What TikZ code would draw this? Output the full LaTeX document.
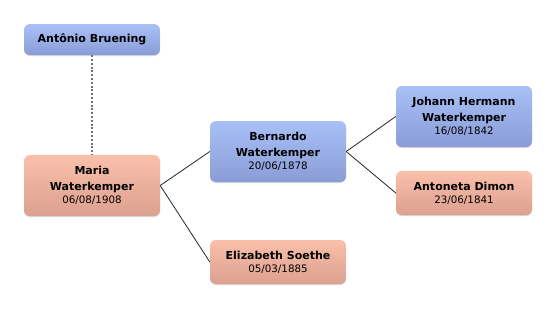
\documentclass[tikz,border=0pt]{standalone}
\usepackage{fontspec}
\setmainfont{DejaVu Sans}
\usetikzlibrary{shadows}
\definecolor{bluetop}{HTML}{A9C0F7}
\definecolor{bluebot}{HTML}{8A9CD6}
\definecolor{saltop}{HTML}{FBC0AA}
\definecolor{salbot}{HTML}{DBA08F}
\tikzset{
  person/.style={rounded corners=6pt, minimum width=136pt, inner sep=0pt, align=center,
    shading=axis, shading angle=0,
    drop shadow={shadow xshift=0pt, shadow yshift=-1pt, opacity=0.25, fill=black!60},
    font=\fontsize{11}{16}\selectfont},
  male/.style={person, top color=bluetop, bottom color=bluebot},
  female/.style={person, top color=saltop, bottom color=salbot},
  link/.style={draw=black!85, line width=0.8pt},
  dotlink/.style={draw=black!55, line width=1.5pt, dash pattern=on 2pt off 1.8pt}
}
\newcommand{\pname}[1]{\textbf{#1}}
\newcommand{\pdate}[1]{{\fontsize{10.3}{12}\selectfont #1}}
\begin{document}
\begin{tikzpicture}[x=1pt,y=-1pt]
\useasboundingbox (0,0) rectangle (556,309);
\node[male, minimum height=31pt] (antonio) at (92,39.5) {\pname{Antônio Bruening}};
\node[female, minimum height=61pt] (maria) at (92,185.5) {\pname{Maria}\\\pname{Waterkemper}\\[-3pt]\pdate{06/08/1908}};
\node[male, minimum height=61pt] (bernardo) at (278,151.5) {\pname{Bernardo}\\\pname{Waterkemper}\\[-3pt]\pdate{20/06/1878}};
\node[female, minimum height=44pt] (elizabeth) at (278,262) {\pname{Elizabeth Soethe}\\[-3pt]\pdate{05/03/1885}};
\node[male, minimum height=61pt] (johann) at (464,116.5) {\pname{Johann Hermann}\\\pname{Waterkemper}\\[-3pt]\pdate{16/08/1842}};
\node[female, minimum height=44pt] (antoneta) at (464,193) {\pname{Antoneta Dimon}\\[-3pt]\pdate{23/06/1841}};
\draw[dotlink] (antonio.south) -- (maria.north);
\draw[link] (maria.east) -- (bernardo.west);
\draw[link] (maria.east) -- (elizabeth.west);
\draw[link] (bernardo.east) -- (johann.west);
\draw[link] (bernardo.east) -- (antoneta.west);
\end{tikzpicture}
\end{document}
